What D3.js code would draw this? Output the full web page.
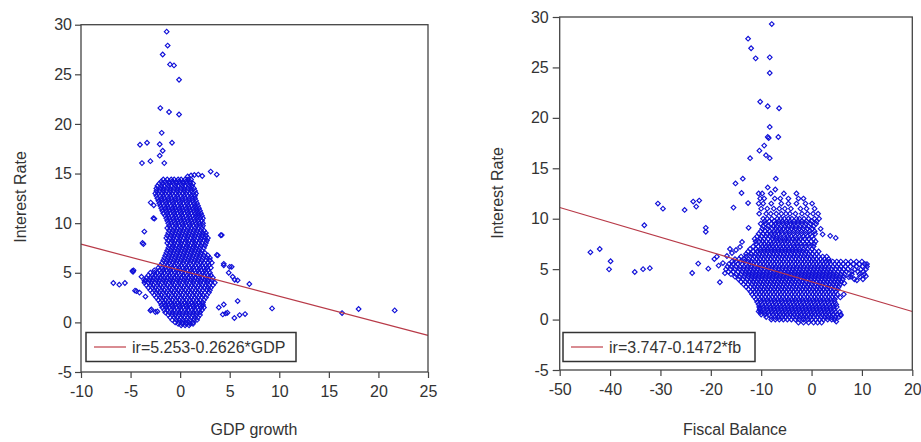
<!DOCTYPE html>
<html>
<head>
<meta charset="utf-8">
<script src="https://cdn.jsdelivr.net/npm/d3@7"></script>
<style>
  body { margin: 0; background: #fff; }
  svg { display: block; }
  text { font-family: "Liberation Sans", Arial, sans-serif; fill: #333; }
</style>
</head>
<body>
<svg id="chart" width="921" height="442"></svg>
<script>
// tick labels
const yTicks = [-5, 0, 5, 10, 15, 20, 25, 30];
const gdpTicks = [-10, -5, 0, 5, 10, 15, 20, 25];
const fbTicks = [-50, -40, -30, -20, -10, 0, 10, 20];

// fitted lines: ir = a + b * x
const gdpFit = { a: 5.253, b: -0.2626, label: 'ir=5.253-0.2626*GDP' };
const fbFit = { a: 3.747, b: -0.1472, label: 'ir=3.747-0.1472*fb' };

// GDP growth vs interest rate: isolated points [gdp, ir]
const gdpOutliers = [
  [-1.36, 29.3], [-1.26, 27.9], [-1.76, 27.0], [-1.02, 26.0], [-0.62, 25.9], [-0.11, 24.45],
  [-2.0, 21.6], [-1.12, 21.2], [-0.11, 20.95], [-1.86, 19.1],
  [-4.05, 17.9], [-3.34, 18.1], [-2.06, 17.95], [-0.82, 18.1], [-1.76, 17.3], [-2.06, 16.8],
  [-3.85, 16.05], [-3.0, 16.25], [-1.6, 16.05],
  [0.76, 14.7], [1.1, 14.8], [1.43, 14.85], [1.83, 14.9], [2.23, 14.75], [3.08, 15.2], [3.69, 14.9],
  [-2.97, 12.07], [-2.66, 11.8], [-2.6, 10.45], [-2.7, 10.5], [-3.61, 9.15], [-3.8, 8.0], [-3.7, 7.9],
  [-6.74, 3.97], [-6.14, 3.8], [-5.57, 3.97], [-4.82, 5.18], [-4.75, 5.1], [-4.7, 5.25],
  [-4.55, 3.2], [-4.4, 3.15], [-4.1, 3.0], [-3.5, 2.6], [-3.9, 4.6], [-3.6, 4.2],
  [-3.0, 1.2], [-2.9, 1.3], [-2.5, 1.05], [-2.3, 1.1],
  [4.1, 8.78], [4.2, 8.8], [3.8, 6.76], [3.7, 6.8], [4.4, 5.75], [4.4, 5.9], [5.0, 5.6], [5.2, 5.6],
  [4.9, 5.0], [5.3, 4.6], [5.5, 4.3], [5.8, 4.24], [6.98, 3.87], [5.8, 2.15], [3.9, 1.5], [4.4, 1.8],
  [4.77, 0.97], [5.47, 0.44], [6.0, 0.74], [6.55, 0.84], [4.3, 0.8], [4.6, 0.9],
  [9.27, 1.41], [16.33, 0.94], [18.0, 1.35], [21.64, 1.21]
];

// GDP growth dense core: [ir, [gdp values]]
const gdpRows = [
  [14.4, [-1.7, -1.3, -0.9, -0.6, -0.2, 0.1, 0.5, 0.8, 1.1]],
  [14.2, [-1.9, -1.5, -1.1, -0.8, -0.4, -0.1, 0.3, 0.6, 1.0]],
  [14.0, [-2.1, -1.8, -1.4, -1.1, -0.7, -0.4, 0, 0.3, 0.7, 1.0, 1.3]],
  [13.75, [-2.3, -1.9, -1.6, -1.2, -0.9, -0.5, -0.2, 0.2, 0.5, 0.9, 1.2]],
  [13.5, [-2.4, -2.0, -1.7, -1.3, -1.0, -0.6, -0.3, 0.1, 0.4, 0.8, 1.1, 1.4]],
  [13.25, [-2.4, -2.1, -1.7, -1.4, -1.0, -0.7, -0.3, 0, 0.4, 0.7, 1.1, 1.5]],
  [13.0, [-2.5, -2.2, -1.8, -1.5, -1.1, -0.8, -0.4, -0.1, 0.3, 0.6, 1.0, 1.3, 1.6]],
  [12.75, [-2.4, -2.0, -1.7, -1.3, -1.0, -0.6, -0.3, 0.1, 0.4, 0.8, 1.1, 1.5]],
  [12.5, [-2.3, -1.9, -1.6, -1.2, -0.9, -0.5, -0.2, 0.2, 0.5, 0.9, 1.2, 1.5]],
  [12.25, [-2.2, -1.9, -1.5, -1.2, -0.8, -0.5, -0.1, 0.2, 0.6, 0.9, 1.3, 1.6]],
  [12.0, [-2.1, -1.8, -1.4, -1.1, -0.7, -0.4, 0, 0.3, 0.7, 1.0, 1.4, 1.7]],
  [11.75, [-2.0, -1.6, -1.3, -0.9, -0.6, -0.2, 0.1, 0.5, 0.8, 1.2, 1.5, 1.8]],
  [11.5, [-1.9, -1.5, -1.2, -0.8, -0.5, -0.1, 0.2, 0.6, 0.9, 1.3, 1.6, 1.9]],
  [11.25, [-1.8, -1.4, -1.1, -0.7, -0.4, 0, 0.3, 0.7, 1.0, 1.4, 1.7, 2.0]],
  [11.0, [-1.7, -1.3, -1.0, -0.6, -0.3, 0.1, 0.4, 0.8, 1.1, 1.5, 1.8, 2.1]],
  [10.75, [-1.5, -1.2, -0.8, -0.5, -0.1, 0.2, 0.6, 0.9, 1.3, 1.6, 1.9, 2.2]],
  [10.5, [-1.4, -1.1, -0.7, -0.4, 0, 0.3, 0.7, 1.0, 1.4, 1.7, 2.0, 2.3]],
  [10.25, [-1.3, -1.0, -0.6, -0.3, 0.1, 0.4, 0.8, 1.1, 1.5, 1.8, 2.2]],
  [10.0, [-1.2, -0.9, -0.5, -0.2, 0.2, 0.5, 0.9, 1.2, 1.6, 1.9, 2.3]],
  [9.75, [-1.1, -0.8, -0.4, -0.1, 0.3, 0.6, 1.0, 1.3, 1.7, 2.0, 2.3]],
  [9.5, [-1.3, -1.0, -0.6, -0.3, 0.1, 0.4, 0.8, 1.1, 1.5, 1.8, 2.2]],
  [9.25, [-1.1, -0.7, -0.4, 0, 0.3, 0.7, 1.0, 1.4, 1.7, 2.1, 2.4]],
  [9.0, [-1.2, -0.8, -0.5, -0.1, 0.2, 0.6, 0.9, 1.3, 1.6, 2.0, 2.3, 2.6]],
  [8.75, [-1.3, -0.9, -0.6, -0.2, 0.1, 0.5, 0.8, 1.2, 1.5, 1.9, 2.2, 2.6]],
  [8.5, [-1.4, -1.0, -0.7, -0.3, 0, 0.4, 0.7, 1.1, 1.4, 1.8, 2.1, 2.5, 2.8]],
  [8.25, [-1.2, -0.8, -0.5, -0.1, 0.2, 0.6, 0.9, 1.3, 1.6, 2.0, 2.4, 2.7]],
  [8.0, [-1.3, -0.9, -0.6, -0.2, 0.1, 0.5, 0.8, 1.2, 1.5, 1.9, 2.2, 2.6]],
  [7.75, [-1.1, -0.7, -0.4, 0, 0.3, 0.7, 1.0, 1.4, 1.7, 2.1, 2.5]],
  [7.5, [-1.2, -0.8, -0.5, -0.1, 0.2, 0.6, 0.9, 1.3, 1.6, 2.0, 2.4]],
  [7.25, [-1.3, -0.9, -0.6, -0.2, 0.1, 0.5, 0.8, 1.2, 1.5, 1.9, 2.2]],
  [7.0, [-1.4, -1.0, -0.7, -0.3, 0, 0.4, 0.7, 1.1, 1.4, 1.8, 2.1, 2.5]],
  [6.75, [-1.5, -1.1, -0.8, -0.4, -0.1, 0.3, 0.6, 1.0, 1.3, 1.7, 2.0, 2.4, 2.8]],
  [6.5, [-1.6, -1.2, -0.9, -0.5, -0.2, 0.2, 0.5, 0.9, 1.2, 1.6, 1.9, 2.3, 2.7, 3.0]],
  [6.25, [-1.7, -1.3, -1.0, -0.6, -0.3, 0.1, 0.4, 0.8, 1.1, 1.5, 1.8, 2.2, 2.6, 3.0]],
  [6.0, [-1.8, -1.4, -1.1, -0.7, -0.4, 0, 0.3, 0.7, 1.0, 1.4, 1.7, 2.1, 2.4, 2.8, 3.2]],
  [5.75, [-2.0, -1.6, -1.3, -0.9, -0.6, -0.2, 0.1, 0.5, 0.8, 1.2, 1.5, 1.9, 2.2, 2.6, 2.9]],
  [5.5, [-2.2, -1.8, -1.5, -1.1, -0.8, -0.4, -0.1, 0.3, 0.6, 1.0, 1.3, 1.7, 2.0, 2.4, 2.7, 3.1]],
  [5.25, [-2.6, -2.1, -1.7, -1.4, -1.0, -0.7, -0.3, 0, 0.4, 0.7, 1.1, 1.4, 1.8, 2.1, 2.5, 2.8]],
  [5.0, [-3.0, -2.6, -2.3, -1.9, -1.6, -1.2, -0.9, -0.5, -0.2, 0.2, 0.5, 0.9, 1.2, 1.6, 1.9, 2.3, 2.6, 3.0]],
  [4.75, [-3.2, -2.8, -2.5, -2.1, -1.8, -1.4, -1.1, -0.7, -0.4, 0, 0.3, 0.7, 1.0, 1.4, 1.7, 2.1, 2.4, 2.8, 3.1]],
  [4.5, [-3.4, -3.0, -2.7, -2.3, -2.0, -1.6, -1.3, -0.9, -0.6, -0.2, 0.1, 0.5, 0.8, 1.2, 1.5, 1.9, 2.2, 2.6, 2.9, 3.3]],
  [4.25, [-3.5, -3.1, -2.8, -2.4, -2.1, -1.7, -1.4, -1.0, -0.7, -0.3, 0, 0.4, 0.7, 1.1, 1.4, 1.8, 2.1, 2.5, 2.8, 3.2]],
  [4.0, [-3.6, -3.2, -2.9, -2.5, -2.2, -1.8, -1.5, -1.1, -0.8, -0.4, -0.1, 0.3, 0.6, 1.0, 1.3, 1.7, 2.0, 2.4, 2.7, 3.1, 3.5]],
  [3.75, [-3.4, -3.0, -2.7, -2.3, -2.0, -1.6, -1.3, -0.9, -0.6, -0.2, 0.1, 0.5, 0.8, 1.2, 1.5, 1.9, 2.2, 2.6, 2.9, 3.3]],
  [3.5, [-3.2, -2.8, -2.5, -2.1, -1.8, -1.4, -1.1, -0.7, -0.4, 0, 0.3, 0.7, 1.0, 1.4, 1.7, 2.1, 2.4, 2.8, 3.1]],
  [3.25, [-3.0, -2.6, -2.3, -1.9, -1.6, -1.2, -0.9, -0.5, -0.2, 0.2, 0.5, 0.9, 1.2, 1.6, 1.9, 2.3, 2.7, 3.0]],
  [3.0, [-2.8, -2.4, -2.1, -1.7, -1.4, -1.0, -0.7, -0.3, 0, 0.4, 0.7, 1.1, 1.4, 1.8, 2.1, 2.5, 2.9]],
  [2.75, [-2.6, -2.2, -1.9, -1.5, -1.2, -0.8, -0.5, -0.1, 0.2, 0.6, 0.9, 1.3, 1.6, 2.0, 2.3, 2.7]],
  [2.5, [-2.4, -2.0, -1.7, -1.3, -1.0, -0.6, -0.3, 0.1, 0.4, 0.8, 1.1, 1.5, 1.8, 2.2, 2.6]],
  [2.25, [-2.2, -1.8, -1.5, -1.1, -0.8, -0.4, -0.1, 0.3, 0.6, 1.0, 1.3, 1.7, 2.0, 2.4]],
  [2.0, [-2.0, -1.6, -1.3, -0.9, -0.6, -0.2, 0.1, 0.5, 0.8, 1.2, 1.5, 1.9, 2.3]],
  [1.75, [-1.9, -1.5, -1.2, -0.8, -0.5, -0.1, 0.2, 0.6, 0.9, 1.3, 1.6, 2.0, 2.3]],
  [1.5, [-1.8, -1.4, -1.1, -0.7, -0.4, 0, 0.3, 0.7, 1.0, 1.4, 1.7, 2.1, 2.4]],
  [1.25, [-1.6, -1.3, -0.9, -0.6, -0.2, 0.1, 0.5, 0.8, 1.2, 1.5, 1.9, 2.2]],
  [1.0, [-1.5, -1.1, -0.8, -0.4, -0.1, 0.3, 0.6, 1.0, 1.3, 1.7, 2.0]],
  [0.75, [-1.2, -0.8, -0.5, -0.1, 0.2, 0.6, 0.9, 1.3, 1.6, 2.0]],
  [0.5, [-1.0, -0.6, -0.3, 0.1, 0.4, 0.8, 1.1, 1.5, 1.8]],
  [0.25, [-0.8, -0.4, -0.1, 0.3, 0.6, 1.0, 1.4, 1.7]],
  [0.0, [-0.5, -0.1, 0.2, 0.6, 0.9, 1.3]],
  [-0.15, [-0.2, 0.2, 0.6, 1.0, 1.3]],
  [-0.3, [0.1, 0.5, 0.9]]
];

// Fiscal balance vs interest rate: isolated points [fb, ir]
const fbOutliers = [
  [-7.9, 29.3], [-12.6, 27.85], [-12.0, 26.9], [-11.1, 25.9], [-8.3, 26.0], [-8.3, 24.45],
  [-10.2, 21.6], [-8.7, 21.15], [-6.45, 20.95], [-8.3, 19.1], [-8.7, 18.1], [-8.5, 18.0], [-6.6, 18.1],
  [-9.4, 17.25], [-10.35, 16.75], [-9.05, 16.3], [-8.3, 16.0], [-12.2, 16.0],
  [-13.65, 13.97], [-15.1, 13.5], [-7.1, 13.97], [-8.7, 13.1], [-7.2, 12.9], [-13.9, 12.55],
  [-15.5, 11.1], [-12.6, 11.55], [-12.5, 9.1], [-13.8, 7.7], [-16.2, 7.0], [-18.2, 3.7],
  [-43.9, 6.67], [-42.05, 7.0], [-39.9, 5.78], [-40.2, 4.98], [-35.1, 4.72], [-33.45, 5.0], [-32.1, 5.1],
  [-33.2, 9.35], [-30.5, 11.5], [-29.5, 11.0], [-25.2, 10.87], [-23.5, 11.7], [-22.3, 11.8], [-22.9, 11.2],
  [-21.0, 9.1], [-21.0, 8.7], [-23.7, 4.62], [-22.5, 5.55], [-20.5, 5.05], [-18.8, 6.24], [-18.45, 5.35],
  [-19.3, 6.0], [-17.6, 5.6], [-17.2, 4.6], [-16.8, 6.3], [-15.8, 6.6], [-15.0, 6.9], [-14.2, 7.2],
  [2.2, 8.45], [3.7, 8.3], [4.8, 8.1], [6.5, 3.6], [7.4, 4.2], [9.0, 3.9], [11.0, 5.5], [10.8, 4.3],
  [5.7, 2.2], [6.4, 2.5], [4.9, -0.2], [5.8, 0.4], [-10.5, 0.8], [-10.2, 1.1]
];

// Fiscal balance dense core: [ir, [fb values]]
const fbRows = [
  [12.5, [-10.5, -9.8, -8.1, -5.5, -3.0]],
  [12.0, [-10.2, -9.4, -7.3, -6.2, -4.6, -2.6, -1.6]],
  [11.5, [-10.5, -9.6, -8.0, -6.0, -4.6, -3.0, -1.2, 0.1]],
  [11.0, [-10.0, -8.8, -7.5, -6.4, -5.3, -4.1, -2.2, -1.0, 0.6]],
  [10.5, [-10.4, -9.0, -8.1, -7.0, -6.0, -5.1, -4.3, -3.2, -1.9, -0.8, 0.3, 1.3]],
  [10.0, [-9.6, -8.8, -7.9, -6.8, -6.1, -5.4, -4.6, -3.9, -3.0, -2.4, -1.5, -0.6, 0.6, 1.5]],
  [9.75, [-9.3, -8.4, -7.4, -6.5, -5.8, -5.0, -4.3, -3.5, -2.7, -1.9, -1.0, 0.0, 1.0]],
  [9.5, [-10.1, -9.2, -8.0, -7.2, -6.5, -5.7, -5.0, -4.2, -3.5, -2.7, -1.9, -1.1, -0.2, 0.9]],
  [9.25, [-9.6, -8.6, -7.6, -6.9, -6.1, -5.3, -4.6, -3.8, -3.1, -2.3, -1.5, -0.6, 0.4]],
  [9.0, [-9.8, -8.7, -7.8, -7.0, -6.2, -5.5, -4.7, -3.9, -3.1, -2.4, -1.6, -0.8, 0.2, 1.8]],
  [8.75, [-10.1, -9.2, -8.3, -7.5, -6.8, -6.0, -5.2, -4.4, -3.6, -2.8, -2.0, -1.2, -0.4, 0.6]],
  [8.5, [-10.5, -9.6, -8.9, -8.1, -7.4, -6.6, -5.9, -5.1, -4.4, -3.6, -2.8, -2.0, -1.2, -0.3, 0.7]],
  [8.25, [-10.8, -9.9, -9.1, -8.3, -7.6, -6.9, -6.2, -5.4, -4.7, -4.0, -3.2, -2.4, -1.6, -0.8, 0.1]],
  [8.0, [-11.3, -10.2, -9.4, -8.6, -7.7, -6.9, -6.2, -5.4, -4.6, -3.8, -3.1, -2.3, -1.4, -0.6, 0.4]],
  [7.75, [-11.1, -10.4, -9.7, -9.0, -8.2, -7.5, -6.8, -6.1, -5.4, -4.7, -4.0, -3.2, -2.5, -1.7, -0.9, -0.1, 0.8]],
  [7.5, [-11.0, -10.0, -9.3, -8.5, -7.9, -7.2, -6.5, -5.8, -5.1, -4.4, -3.6, -2.9, -2.1, -1.3, -0.5, 0.5]],
  [7.25, [-11.6, -10.6, -9.8, -9.1, -8.4, -7.7, -7.0, -6.3, -5.6, -4.9, -4.2, -3.5, -2.8, -2.0, -1.2, -0.4, 0.4]],
  [7.0, [-12.2, -11.0, -10.1, -9.4, -8.7, -8.0, -7.3, -6.6, -5.9, -5.2, -4.5, -3.8, -3.1, -2.4, -1.6, -0.8, 0.1]],
  [6.75, [-12.6, -11.6, -10.8, -10.1, -9.4, -8.7, -8.0, -7.3, -6.6, -5.9, -5.2, -4.5, -3.8, -3.1, -2.4, -1.7, -1.0, -0.3, 0.6, 1.4]],
  [6.5, [-13.0, -12.0, -11.1, -10.4, -9.7, -9.0, -8.3, -7.6, -6.9, -6.2, -5.5, -4.8, -4.1, -3.4, -2.7, -2.0, -1.3, -0.6, 0.2, 1.0]],
  [6.25, [-14.0, -13.0, -12.1, -11.3, -10.6, -9.9, -9.2, -8.5, -7.8, -7.1, -6.4, -5.7, -5.0, -4.3, -3.6, -2.9, -2.2, -1.5, -0.8, -0.1, 0.6, 1.4, 2.2, 3.0]],
  [6.0, [-15.2, -14.4, -13.3, -12.5, -11.7, -10.9, -10.2, -9.5, -8.8, -8.1, -7.4, -6.7, -6.0, -5.3, -4.6, -3.9, -3.2, -2.5, -1.8, -1.1, -0.4, 0.3, 1.0, 1.8, 2.6, 3.4]],
  [5.75, [-15.8, -15.0, -14.1, -13.3, -12.6, -11.9, -11.2, -10.5, -9.8, -9.1, -8.4, -7.7, -7.0, -6.3, -5.6, -4.9, -4.2, -3.5, -2.8, -2.1, -1.4, -0.7, 0, 0.7, 1.4, 2.1, 2.8, 3.5, 4.2, 5.0, 5.8, 6.8, 7.8, 8.9, 10.0]],
  [5.5, [-16.4, -15.6, -14.7, -13.8, -13.0, -12.3, -11.6, -10.9, -10.2, -9.5, -8.8, -8.1, -7.4, -6.7, -6.0, -5.3, -4.6, -3.9, -3.2, -2.5, -1.8, -1.1, -0.4, 0.3, 1.0, 1.7, 2.4, 3.1, 3.8, 4.6, 5.4, 6.3, 7.2, 8.3, 9.5, 10.6]],
  [5.25, [-16.7, -15.9, -15.0, -14.2, -13.4, -12.7, -12.0, -11.3, -10.6, -9.9, -9.2, -8.5, -7.8, -7.1, -6.4, -5.7, -5.0, -4.3, -3.6, -2.9, -2.2, -1.5, -0.8, -0.1, 0.6, 1.3, 2.0, 2.7, 3.4, 4.2, 5.0, 5.8, 6.7, 7.7, 8.9, 10.1, 11.0]],
  [5.0, [-17.0, -16.1, -15.2, -14.3, -13.5, -12.8, -12.1, -11.4, -10.7, -10.0, -9.3, -8.6, -7.9, -7.2, -6.5, -5.8, -5.1, -4.4, -3.7, -3.0, -2.3, -1.6, -0.9, -0.2, 0.5, 1.2, 1.9, 2.6, 3.3, 4.0, 4.8, 5.6, 6.4, 7.2, 8.6, 9.8, 10.8]],
  [4.75, [-16.5, -15.5, -14.6, -13.8, -13.1, -12.4, -11.7, -11.0, -10.3, -9.6, -8.9, -8.2, -7.5, -6.8, -6.1, -5.4, -4.7, -4.0, -3.3, -2.6, -1.9, -1.2, -0.5, 0.2, 0.9, 1.6, 2.3, 3.0, 3.7, 4.4, 5.2, 6.0, 6.9, 8.0, 9.2, 10.3]],
  [4.5, [-16.0, -15.0, -14.0, -13.2, -12.5, -11.8, -11.1, -10.4, -9.7, -9.0, -8.3, -7.6, -6.9, -6.2, -5.5, -4.8, -4.1, -3.4, -2.7, -2.0, -1.3, -0.6, 0.1, 0.8, 1.5, 2.2, 2.9, 3.6, 4.3, 5.0, 5.8, 6.6, 8.0, 9.5, 10.5]],
  [4.25, [-15.2, -14.3, -13.4, -12.6, -11.9, -11.2, -10.5, -9.8, -9.1, -8.4, -7.7, -7.0, -6.3, -5.6, -4.9, -4.2, -3.5, -2.8, -2.1, -1.4, -0.7, 0, 0.7, 1.4, 2.1, 2.8, 3.5, 4.2, 4.9, 5.6, 6.4, 7.8, 9.6]],
  [4.0, [-14.5, -13.6, -12.8, -12.0, -11.3, -10.6, -9.9, -9.2, -8.5, -7.8, -7.1, -6.4, -5.7, -5.0, -4.3, -3.6, -2.9, -2.2, -1.5, -0.8, -0.1, 0.6, 1.3, 2.0, 2.7, 3.4, 4.1, 4.8, 5.5, 6.2, 8.5, 10.2]],
  [3.75, [-14.0, -13.1, -12.3, -11.6, -10.9, -10.2, -9.5, -8.8, -8.1, -7.4, -6.7, -6.0, -5.3, -4.6, -3.9, -3.2, -2.5, -1.8, -1.1, -0.4, 0.3, 1.0, 1.7, 2.4, 3.1, 3.8, 4.5, 5.2, 5.9]],
  [3.5, [-13.5, -12.6, -11.8, -11.1, -10.4, -9.7, -9.0, -8.3, -7.6, -6.9, -6.2, -5.5, -4.8, -4.1, -3.4, -2.7, -2.0, -1.3, -0.6, 0.1, 0.8, 1.5, 2.2, 2.9, 3.6, 4.3, 5.0, 5.7]],
  [3.25, [-13.0, -12.1, -11.4, -10.7, -10.0, -9.3, -8.6, -7.9, -7.2, -6.5, -5.8, -5.1, -4.4, -3.7, -3.0, -2.3, -1.6, -0.9, -0.2, 0.5, 1.2, 1.9, 2.6, 3.3, 4.0, 4.7, 5.4]],
  [3.0, [-12.5, -11.6, -10.9, -10.2, -9.5, -8.8, -8.1, -7.4, -6.7, -6.0, -5.3, -4.6, -3.9, -3.2, -2.5, -1.8, -1.1, -0.4, 0.3, 1.0, 1.7, 2.4, 3.1, 3.8, 4.5, 5.2]],
  [2.75, [-12.1, -11.3, -10.6, -9.9, -9.2, -8.5, -7.8, -7.1, -6.4, -5.7, -5.0, -4.3, -3.6, -2.9, -2.2, -1.5, -0.8, -0.1, 0.6, 1.3, 2.0, 2.7, 3.4, 4.1, 4.8]],
  [2.5, [-11.8, -11.0, -10.3, -9.6, -8.9, -8.2, -7.5, -6.8, -6.1, -5.4, -4.7, -4.0, -3.3, -2.6, -1.9, -1.2, -0.5, 0.2, 0.9, 1.6, 2.3, 3.0, 3.7, 4.4, 5.1]],
  [2.25, [-11.4, -10.6, -9.9, -9.2, -8.5, -7.8, -7.1, -6.4, -5.7, -5.0, -4.3, -3.6, -2.9, -2.2, -1.5, -0.8, -0.1, 0.6, 1.3, 2.0, 2.7, 3.4, 4.1, 4.8]],
  [2.0, [-11.0, -10.2, -9.5, -8.8, -8.1, -7.4, -6.7, -6.0, -5.3, -4.6, -3.9, -3.2, -2.5, -1.8, -1.1, -0.4, 0.3, 1.0, 1.7, 2.4, 3.1, 3.8, 4.6]],
  [1.75, [-10.8, -10.1, -9.4, -8.7, -8.0, -7.3, -6.6, -5.9, -5.2, -4.5, -3.8, -3.1, -2.4, -1.7, -1.0, -0.3, 0.4, 1.1, 1.8, 2.5, 3.2, 3.9, 4.6]],
  [1.5, [-10.5, -9.8, -9.1, -8.4, -7.7, -7.0, -6.3, -5.6, -4.9, -4.2, -3.5, -2.8, -2.1, -1.4, -0.7, 0, 0.7, 1.4, 2.1, 2.8, 3.5, 4.2, 4.9]],
  [1.25, [-10.4, -9.6, -8.9, -8.2, -7.5, -6.8, -6.1, -5.4, -4.7, -4.0, -3.3, -2.6, -1.9, -1.2, -0.5, 0.2, 0.9, 1.6, 2.3, 3.0, 3.7, 4.4, 5.0]],
  [1.0, [-10.3, -9.5, -8.8, -8.1, -7.4, -6.7, -6.0, -5.3, -4.6, -3.9, -3.2, -2.5, -1.8, -1.1, -0.4, 0.3, 1.0, 1.7, 2.4, 3.1, 3.8, 4.5]],
  [0.75, [-10.1, -9.3, -8.6, -7.9, -7.2, -6.5, -5.8, -5.1, -4.4, -3.7, -3.0, -2.3, -1.6, -0.9, -0.2, 0.5, 1.2, 1.9, 2.6, 3.3, 4.0, 4.8, 5.6]],
  [0.5, [-10.0, -9.2, -8.4, -7.7, -7.0, -6.3, -5.6, -4.9, -4.2, -3.5, -2.8, -2.1, -1.4, -0.7, 0, 0.7, 1.4, 2.1, 2.8, 3.5, 4.2, 5.0, 5.8]],
  [0.25, [-9.0, -8.0, -7.2, -6.5, -5.8, -5.1, -4.4, -3.7, -3.0, -2.3, -1.6, -0.9, -0.2, 0.5, 1.2, 1.9, 2.6, 3.3, 4.0, 4.8, 5.4]],
  [0.0, [-8.0, -7.2, -6.4, -5.6, -4.8, -4.0, -3.2, -2.4, -1.6, -0.8, 0, 0.8, 1.6, 2.4, 3.2, 4.0, 4.6]],
  [-0.3, [-2.6, -1.6, -0.6, 0.4, 1.2, 2.0]]
];

const svg = d3.select('#chart');
svg.append('rect').attr('width', 921).attr('height', 442).attr('fill', '#fff');

function drawPanel(p) {
  const x = d3.scaleLinear().domain(p.xDomain).range([p.left, p.right]);
  const y = d3.scaleLinear().domain([-5, 30]).range([p.bottom, p.top]);
  const g = svg.append('g');

  const pts = p.rows.flatMap(r => r[1].map(v => [v, r[0]])).concat(p.outliers);

  g.selectAll('path.pt')
    .data(pts)
    .enter()
    .append('path')
    .attr('class', 'pt')
    .attr('d', d3.symbol(d3.symbolSquare, 11))
    .attr('transform', d => 'translate(' + x(d[0]) + ',' + y(d[1]) + ') rotate(45)')
    .attr('fill', 'none')
    .attr('stroke', '#1010d8')
    .attr('stroke-width', 1.15);

  // regression line
  g.append('line')
    .attr('x1', x(p.xDomain[0])).attr('y1', y(p.fit.a + p.fit.b * p.xDomain[0]))
    .attr('x2', x(p.xDomain[1])).attr('y2', y(p.fit.a + p.fit.b * p.xDomain[1]))
    .attr('stroke', '#b83a48')
    .attr('stroke-width', 1.2);

  // frame
  g.append('rect')
    .attr('x', p.left).attr('y', p.top)
    .attr('width', p.right - p.left).attr('height', p.bottom - p.top)
    .attr('fill', 'none').attr('stroke', '#444').attr('stroke-width', 1.3);

  const yAxis = g.append('g')
    .attr('transform', 'translate(' + p.left + ',0)')
    .call(d3.axisLeft(y).tickValues(yTicks).tickFormat(d => String(d)).tickSize(p.tick).tickPadding(p.yPad));
  const xAxis = g.append('g')
    .attr('transform', 'translate(0,' + p.bottom + ')')
    .call(d3.axisBottom(x).tickValues(p.xTicks).tickFormat(d => String(d)).tickSize(6).tickPadding(8));
  [yAxis, xAxis].forEach(a => {
    a.select('.domain').remove();
    a.selectAll('line').attr('stroke', '#444').attr('stroke-width', 1.2);
    a.selectAll('text').style('font-size', '16px').attr('fill', '#333')
      .style('font-family', '"Liberation Sans", Arial, sans-serif');
  });

  // axis titles
  g.append('text')
    .attr('transform', 'translate(' + p.yTitleX + ',' + p.yTitleY + ') rotate(-90)')
    .attr('text-anchor', 'middle')
    .style('font-size', '16px')
    .text('Interest Rate');
  g.append('text')
    .attr('x', p.xTitleX).attr('y', 435)
    .attr('text-anchor', 'middle')
    .style('font-size', '16px')
    .text(p.xTitle);

  // legend
  g.append('rect')
    .attr('x', p.legX).attr('y', 332.5)
    .attr('width', p.legW).attr('height', 29)
    .attr('fill', '#fff').attr('stroke', '#333').attr('stroke-width', 1.5);
  g.append('line')
    .attr('x1', p.legX + 8).attr('x2', p.legX + 40)
    .attr('y1', 347).attr('y2', 347)
    .attr('stroke', '#c0404a').attr('stroke-width', 1.2);
  g.append('text')
    .attr('x', p.legX + 46).attr('y', 353)
    .style('font-size', '16px')
    .text(p.fit.label);
}

drawPanel({
  xDomain: [-10, 25], xTicks: gdpTicks, left: 81, right: 428, top: 24.7, bottom: 372,
  tick: 6, yPad: 3, rows: gdpRows, outliers: gdpOutliers, fit: gdpFit,
  yTitleX: 26, yTitleY: 197, xTitleX: 254, xTitle: 'GDP growth', legX: 86, legW: 210
});

drawPanel({
  xDomain: [-50, 20], xTicks: fbTicks, left: 559.7, right: 912.3, top: 17, bottom: 370,
  tick: 7, yPad: 4, rows: fbRows, outliers: fbOutliers, fit: fbFit,
  yTitleX: 503, yTitleY: 193, xTitleX: 735, xTitle: 'Fiscal Balance', legX: 563, legW: 192
});
</script>
</body>
</html>
